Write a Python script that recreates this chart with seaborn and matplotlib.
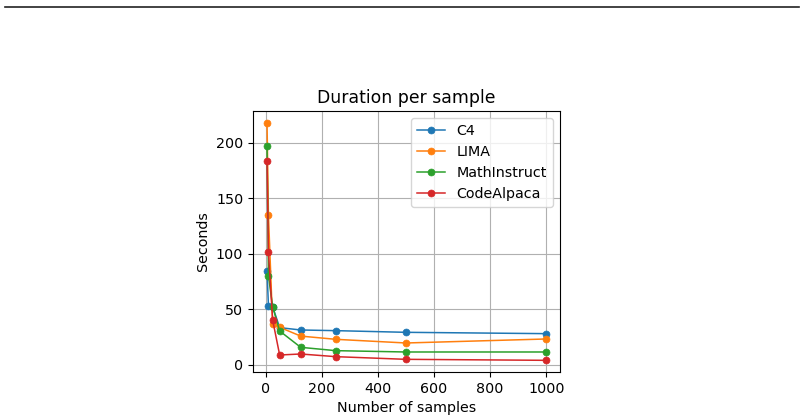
import numpy as np
import pandas as pd
import seaborn as sns
import matplotlib
matplotlib.use("Agg")
import matplotlib.pyplot as plt
from matplotlib.lines import Line2D

# number of samples
n_samples = [5, 10, 25, 50, 125, 250, 500, 1000]

# seconds per sample
c4 = [84.6, 53.4, 52.5, 33.6, 31.5, 30.9, 29.4, 28.2]
lima = [217.7, 134.9, 36.9, 33.9, 26.0, 23.1, 19.8, 23.4]
mathinstruct = [197.3, 80.3, 52.5, 30.6, 15.9, 12.9, 11.7, 11.7]
codealpaca = [183.5, 101.4, 40.5, 9.0, 9.9, 7.5, 5.1, 4.2]

names = ["C4", "LIMA", "MathInstruct", "CodeAlpaca"]
colors = ["#1f77b4", "#ff7f0e", "#2ca02c", "#d62728"]


def build_frame():
    rows = []
    for name, vals in zip(names, [c4, lima, mathinstruct, codealpaca]):
        for x, y in zip(n_samples, vals):
            rows.append({"samples": x, "seconds": y, "dataset": name})
    return pd.DataFrame(rows)


df = build_frame()

fig = plt.figure(figsize=(8.04, 4.15), dpi=100)
ax = fig.add_axes([253 / 804, 1 - 372 / 415, (560 - 253) / 804, (372 - 111) / 415])

for name, col in zip(names, colors):
    sub = df[df["dataset"] == name]
    sns.lineplot(data=sub, x="samples", y="seconds", ax=ax, color=col,
                 marker="o", markersize=5, linewidth=1.1, label=name,
                 markeredgecolor=col, markeredgewidth=0.5)

ax.set_xlim(-45, 1049)
ax.set_ylim(-6.3, 228.5)
ax.set_xticks([0, 200, 400, 600, 800, 1000])
ax.set_yticks([0, 50, 100, 150, 200])
ax.grid(True, color="#b0b0b0", linewidth=0.8)
ax.tick_params(labelsize=10.3)
ax.set_xlabel("Number of samples", fontsize=10.3)
ax.set_ylabel("Seconds", fontsize=10.3)
ax.set_title("Duration per sample", fontsize=12.4)
ax.legend(loc="upper right", fontsize=10.3)

# stray rule across the top of the image
fig.add_artist(Line2D([5 / 804, 799 / 804], [1 - 7 / 415, 1 - 7 / 415],
                      color="#222222", linewidth=1.2))

fig.savefig("out.png", dpi=100)
